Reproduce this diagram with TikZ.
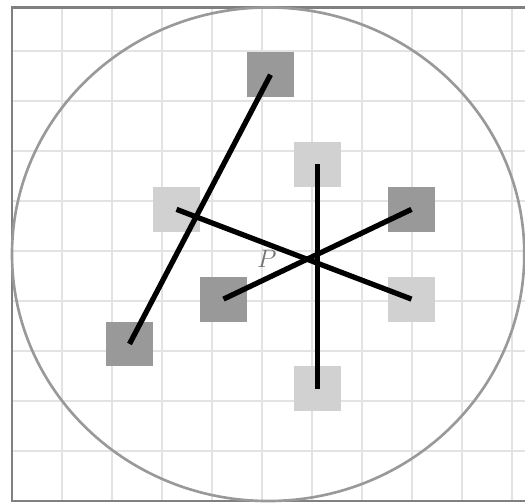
\documentclass[tikz,border=0pt]{standalone}
\begin{document}
\begin{tikzpicture}[x=0.94cm,y=0.8974cm,cell/.style={inner sep=0pt,minimum width=0.94cm,minimum height=0.8974cm},darkcell/.style={cell,fill=black!40},lightcell/.style={cell,fill=black!18},seg/.style={line width=3pt},lab/.style={font=\Large,text=black!55}]
\useasboundingbox (-0.2553,-0.0446) rectangle (10.915,11.166);
\draw[black!11,line width=1pt] (0,0) grid (10.915,11);
\node[darkcell](dtop) at (5.5,9.5){};
\node[darkcell](dbot) at (2.5,3.5){};
\node[lightcell](ltop) at (6.5,7.5){};
\node[lightcell](lbot) at (6.5,2.5){};
\node[darkcell](dleft) at (4.5,4.5){};
\node[darkcell](dright) at (8.5,6.5){};
\node[lightcell](lleft) at (3.5,6.5){};
\node[lightcell](lright) at (8.5,4.5){};
\draw[black!50,line width=1.2pt] (10.915,11)--(0,11)--(0,0)--(10.915,0);
\draw[black!40,line width=1.5pt] (5.45,5.5) ellipse [x radius=5.45,y radius=5.5];
\node[lab](p) at (5.42,5.4){$P$};
\draw[seg](dtop.center)--(dbot.center);
\draw[seg](ltop.center)--(lbot.center);
\draw[seg](dleft.center)--(dright.center);
\draw[seg](lleft.center)--(lright.center);
\end{tikzpicture}
\end{document}
